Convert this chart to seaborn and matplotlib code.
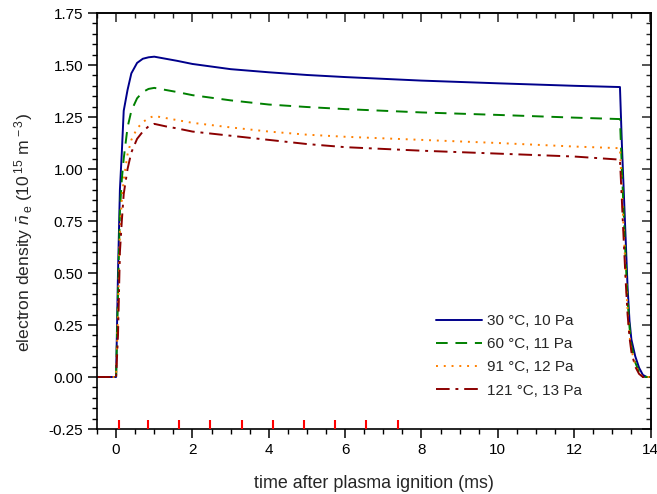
import numpy as np
import pandas as pd
import matplotlib
matplotlib.use("Agg")
import matplotlib.pyplot as plt
import seaborn as sns
from matplotlib.ticker import MultipleLocator, FormatStrFormatter

# ---- data ----
time_ms = [-0.5, 0.0, 0.05, 0.1, 0.15, 0.2, 0.3, 0.4, 0.55, 0.7, 0.85, 1.0, 1.3, 1.6,
           2.0, 3.0, 4.0, 5.0, 6.0, 8.0, 10.0, 12.0, 13.2, 13.25, 13.3, 13.35, 13.4,
           13.45, 13.5, 13.6, 13.7, 13.8, 13.9, 14.0]
n_30C = [0, 0, 0.5, 0.9, 1.08, 1.28, 1.38, 1.46, 1.51, 1.53, 1.537, 1.54, 1.53, 1.52,
         1.505, 1.48, 1.465, 1.452, 1.442, 1.425, 1.412, 1.40, 1.394, 1.12, 0.89, 0.66, 0.43,
         0.27, 0.18, 0.10, 0.045, 0.01, 0, 0]
n_60C = [0, 0, 0.4, 0.8, 0.95, 1.05, 1.2, 1.28, 1.34, 1.37, 1.385, 1.39, 1.38, 1.37,
         1.355, 1.33, 1.31, 1.298, 1.288, 1.272, 1.26, 1.247, 1.24, 1.0, 0.78, 0.56, 0.37,
         0.24, 0.15, 0.07, 0.025, 0.005, 0, 0]
n_91C = [0, 0, 0.3, 0.7, 0.85, 0.95, 1.07, 1.14, 1.195, 1.225, 1.245, 1.255, 1.245, 1.235,
         1.222, 1.2, 1.18, 1.165, 1.155, 1.14, 1.125, 1.108, 1.10, 0.9, 0.7, 0.5, 0.32,
         0.2, 0.13, 0.06, 0.02, 0.0, 0, 0]
n_121C = [0, 0, 0.2, 0.6, 0.75, 0.88, 1.0, 1.08, 1.145, 1.18, 1.205, 1.217, 1.205, 1.195,
          1.18, 1.16, 1.14, 1.12, 1.105, 1.088, 1.074, 1.06, 1.045, 0.85, 0.65, 0.46, 0.30,
          0.19, 0.12, 0.05, 0.015, 0.0, 0, 0]
labels = ["30 °C, 10 Pa", "60 °C, 11 Pa", "91 °C, 12 Pa", "121 °C, 13 Pa"]
colors = ["#00008B", "#008000", "#FF8000", "#8B0000"]
marker_times = [0.08, 0.83, 1.65, 2.47, 3.29, 4.11, 4.93, 5.74, 6.56, 7.39]

# ---- style ----
sns.set_theme(style="ticks")
plt.rcParams["font.family"] = ["Liberation Sans", "DejaVu Sans"]
plt.rcParams["mathtext.fontset"] = "custom"
plt.rcParams["mathtext.rm"] = "Liberation Sans"
plt.rcParams["mathtext.it"] = "Liberation Sans:italic"
plt.rcParams["mathtext.bf"] = "Liberation Sans:bold"

fig = plt.figure(figsize=(6.57, 4.94), dpi=100)
ax = fig.add_axes([97 / 657, 1 - 429 / 494, 553.5 / 657, 416 / 494])

styles = ["-", (0, (6, 4)), (0, (1, 3)), (0, (7, 3, 1.5, 3))]
series = [n_30C, n_60C, n_91C, n_121C]
for vals, lab, col, ls in zip(series, labels, colors, styles):
    df = pd.DataFrame({"t": time_ms, "n": vals})
    sns.lineplot(data=df, x="t", y="n", ax=ax, color=col, linestyle=ls,
                 linewidth=1.4, label=lab, sort=False, estimator=None)

# red markers along bottom axis
ax.vlines(marker_times, -0.25, -0.205, colors="red", linewidth=1.5, zorder=5)

ax.set_xlim(-0.5, 14)
ax.set_ylim(-0.25, 1.75)
ax.xaxis.set_major_locator(MultipleLocator(2))
ax.xaxis.set_minor_locator(MultipleLocator(0.5))
ax.yaxis.set_major_locator(MultipleLocator(0.25))
ax.yaxis.set_minor_locator(MultipleLocator(0.05))
ax.yaxis.set_major_formatter(FormatStrFormatter("%.2f"))

for side in ["left", "bottom", "top", "right"]:
    ax.spines[side].set_visible(True)
    ax.spines[side].set_color("black")
    ax.spines[side].set_linewidth(1.2)

ax.tick_params(axis="both", which="major", direction="out", length=6.5, width=1.1,
               labelsize=11, color="black", labelcolor="black")
ax.tick_params(axis="both", which="minor", direction="out", length=3.5, width=1.0,
               color="black")
# mirrored inward ticks on top/right
secx = ax.secondary_xaxis("top")
secx.xaxis.set_major_locator(MultipleLocator(2))
secx.xaxis.set_minor_locator(MultipleLocator(0.5))
secx.tick_params(which="major", direction="in", length=6.5, width=1.1, labeltop=False)
secx.tick_params(which="minor", direction="in", length=3.5, width=1.0)
secy = ax.secondary_yaxis("right")
secy.yaxis.set_major_locator(MultipleLocator(0.25))
secy.yaxis.set_minor_locator(MultipleLocator(0.05))
secy.tick_params(which="major", direction="in", length=6.5, width=1.1, labelright=False)
secy.tick_params(which="minor", direction="in", length=3.5, width=1.0)

ax.set_xlabel("time after plasma ignition (ms)", fontsize=12.9, labelpad=13)
ax.set_ylabel(r"electron density $\bar{n}_{\,\mathrm{e}}$ (10$^{\,15}$ m$^{\,-3}$)",
              fontsize=12.6, labelpad=5)
ax.yaxis.set_label_coords(-0.112, 0.472)

leg = ax.legend(loc="center left", bbox_to_anchor=(0.613, 0.176), frameon=False,
                fontsize=11, handlelength=3.0, handletextpad=0.35,
                labelspacing=0.6, borderpad=0, borderaxespad=0)

fig.savefig("out.png", dpi=100)
